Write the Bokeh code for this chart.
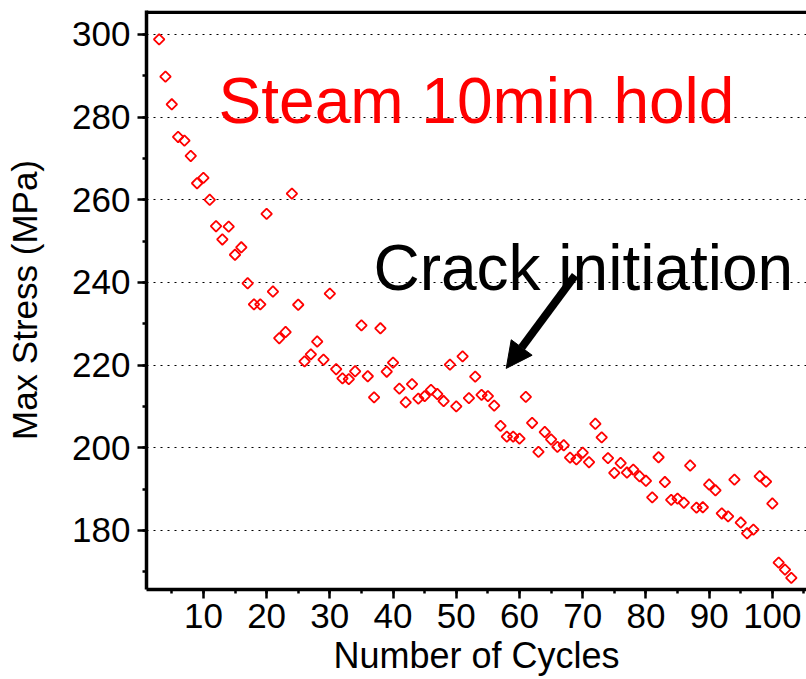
import numpy as np
from bokeh.plotting import figure
from bokeh.models import (SingleIntervalTicker, Range1d, Span,
                          Arrow, NormalHead, ColumnDataSource)
from bokeh.core.properties import value
from bokeh.embed import file_html
from bokeh.resources import INLINE

cycles = list(range(3, 104))
max_stress = [
    298.8, 289.8, 283.1, 275.2, 274.3, 270.6, 264.0, 265.3, 260.0, 253.6,
    250.4, 253.5, 246.7, 248.5, 239.8, 234.7, 234.7, 256.6, 237.8, 226.5,
    228.0, 261.5, 234.6, 220.9, 222.6, 225.7, 221.3, 237.3, 219.0, 216.8,
    216.6, 218.5, 229.6, 217.3, 212.2, 228.9, 218.4, 220.6, 214.3, 211.0,
    215.4, 211.9, 212.5, 214.0, 213.0, 211.3, 220.1, 210.0, 222.1, 212.0,
    217.2, 212.8, 212.5, 210.2, 205.3, 202.7, 202.7, 202.2, 212.3, 206.0,
    199.0, 203.8, 202.0, 200.2, 200.6, 197.6, 197.2, 198.8, 196.5, 205.8,
    202.5, 197.5, 193.9, 196.3, 194.0, 194.7, 193.1, 192.0, 188.0, 197.7,
    191.7, 187.4, 187.7, 186.7, 195.7, 185.5, 185.6, 191.1, 189.7, 184.1,
    183.4, 192.3, 181.9, 179.3, 180.2, 193.1, 191.8, 186.5, 172.2, 170.5,
    168.5,
]

FONT = "Liberation Sans"
Y_TOP = 305.8

p = figure(width=806, height=679, output_backend="svg", toolbar_location=None,
           x_range=Range1d(1.0, 105.4), y_range=Range1d(165.7, Y_TOP),
           min_border_left=146, min_border_right=0, min_border_top=10,
           min_border_bottom=90)
p.outline_line_color = None
p.background_fill_color = "white"
p.border_fill_color = "white"

p.xaxis.ticker = SingleIntervalTicker(interval=10, num_minor_ticks=2)
p.yaxis.ticker = SingleIntervalTicker(interval=20, num_minor_ticks=2)
p.xgrid.visible = False
p.ygrid.grid_line_color = "black"
p.ygrid.grid_line_dash = "2 5"
p.ygrid.grid_line_width = 1.2

for ax in (p.xaxis[0], p.yaxis[0]):
    ax.axis_line_width = 3.5
    ax.axis_line_color = "black"
    ax.major_tick_line_width = 2.5
    ax.minor_tick_line_width = 2.5
    ax.major_tick_out = 9
    ax.major_tick_in = 0
    ax.minor_tick_out = 4
    ax.minor_tick_in = 0
    ax.major_label_text_font = FONT
    ax.major_label_text_font_size = "35px"
    ax.major_label_text_color = "black"
    ax.axis_label_text_font = FONT
    ax.axis_label_text_font_style = "normal"
    ax.axis_label_text_color = "black"

p.xaxis.axis_label = "Number of Cycles"
p.yaxis.axis_label = "Max Stress (MPa)"
p.xaxis.axis_label_text_font_size = "36px"
p.yaxis.axis_label_text_font_size = "35px"
p.xaxis.major_label_standoff = 5
p.xaxis.axis_label_standoff = 4
p.yaxis.major_label_standoff = 7
p.yaxis.axis_label_standoff = 25

# top frame border, kept just inside the plotting area
p.add_layout(Span(location=Y_TOP - 0.4, dimension="width", line_color="black",
                  line_width=3.5, level="overlay"))

src = ColumnDataSource(dict(x=cycles, y=max_stress))
p.scatter("x", "y", source=src, marker="square", angle=np.pi / 4, size=7.5,
          line_color="#FF0000", line_width=1.8, fill_color=None)

p.text(x=[12.4], y=[284.0], text=["Steam 10min hold"], text_color="#FF0000",
       text_font=value(FONT), text_font_size="64px", text_baseline="alphabetic",
       text_align="left")
p.text(x=[36.9], y=[243.4], text=["Crack initiation"], text_color="black",
       text_font=value(FONT), text_font_size="64px", text_baseline="alphabetic",
       text_align="left")

p.add_layout(Arrow(end=NormalHead(size=26, fill_color="black", line_color="black"),
                   x_start=68.8, y_start=241.7, x_end=57.9, y_end=219.2,
                   line_width=8, line_color="black"))

open("out.html", "w").write(file_html(p, INLINE))
